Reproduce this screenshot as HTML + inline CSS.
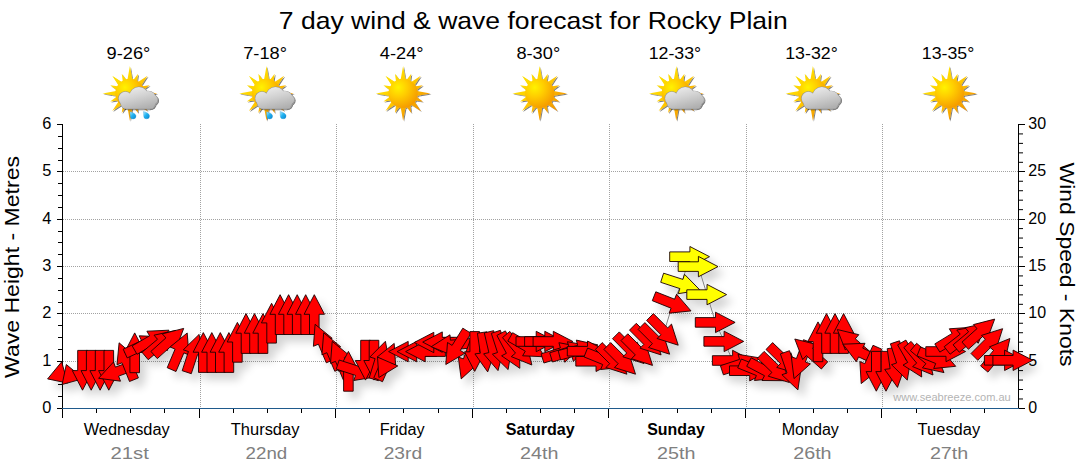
<!DOCTYPE html><html><head><meta charset="utf-8"><title>7 day wind &amp; wave forecast</title>
<style>html,body{margin:0;padding:0;background:#fff}svg{display:block}text{font-family:"Liberation Sans",sans-serif}</style></head><body>
<svg width="1080" height="475" viewBox="0 0 1080 475">
<defs>
<filter id="sh" x="-5%" y="-20%" width="110%" height="150%">
<feGaussianBlur in="SourceAlpha" stdDeviation="4.5" result="b"/>
<feOffset in="b" dx="6" dy="7" result="o"/>
<feComponentTransfer in="o" result="s"><feFuncA type="linear" slope="0.17"/></feComponentTransfer>
<feMerge><feMergeNode in="s"/><feMergeNode in="SourceGraphic"/></feMerge>
</filter>
<radialGradient id="sung" gradientUnits="userSpaceOnUse" cx="-5" cy="-6" r="24">
<stop offset="0" stop-color="#fff200"/><stop offset="0.4" stop-color="#ffcc00"/><stop offset="1" stop-color="#f39200"/>
</radialGradient>
<linearGradient id="rayg" gradientUnits="userSpaceOnUse" x1="-20" y1="-20" x2="20" y2="20">
<stop offset="0" stop-color="#ffe800"/><stop offset="0.5" stop-color="#ffc600"/><stop offset="1" stop-color="#f08a00"/>
</linearGradient>
<linearGradient id="cldg" gradientUnits="userSpaceOnUse" x1="0" y1="-8" x2="6" y2="17">
<stop offset="0" stop-color="#f0f0f0"/><stop offset="0.5" stop-color="#d2d2d2"/><stop offset="1" stop-color="#b0b0b0"/>
</linearGradient>
<linearGradient id="dropg" gradientUnits="objectBoundingBox" x1="0" y1="0" x2="1" y2="1">
<stop offset="0" stop-color="#b8ecff"/><stop offset="0.45" stop-color="#22b4f2"/><stop offset="1" stop-color="#0a84cc"/>
</linearGradient>
<filter id="ish" x="-20%" y="-20%" width="150%" height="150%">
<feGaussianBlur in="SourceAlpha" stdDeviation="0.7" result="b"/>
<feOffset in="b" dx="1" dy="1" result="o"/>
<feComponentTransfer in="o" result="s"><feFuncA type="linear" slope="0.5"/></feComponentTransfer>
<feMerge><feMergeNode in="s"/><feMergeNode in="SourceGraphic"/></feMerge>
</filter>
</defs>
<rect width="1080" height="475" fill="#fff"/>
<g stroke="#a2a2a2" stroke-width="1" stroke-dasharray="1 1" shape-rendering="crispEdges"><line x1="63" y1="361.5" x2="1018" y2="361.5"/><line x1="63" y1="313.5" x2="1018" y2="313.5"/><line x1="63" y1="266.5" x2="1018" y2="266.5"/><line x1="63" y1="219.5" x2="1018" y2="219.5"/><line x1="63" y1="171.5" x2="1018" y2="171.5"/><line x1="200.5" y1="124" x2="200.5" y2="408"/><line x1="336.5" y1="124" x2="336.5" y2="408"/><line x1="473.5" y1="124" x2="473.5" y2="408"/><line x1="609.5" y1="124" x2="609.5" y2="408"/><line x1="746.5" y1="124" x2="746.5" y2="408"/><line x1="882.5" y1="124" x2="882.5" y2="408"/></g>
<text x="533.3" y="29" font-size="24.8" text-anchor="middle" fill="#000" textLength="509" lengthAdjust="spacingAndGlyphs">7 day wind &amp; wave forecast for Rocky Plain</text>
<text x="128.5" y="58.9" font-size="16.4" text-anchor="middle" fill="#000" textLength="43.8" lengthAdjust="spacingAndGlyphs">9-26°</text>
<text x="126.7" y="435" font-size="16" text-anchor="middle" fill="#000" textLength="86" lengthAdjust="spacingAndGlyphs">Wednesday</text>
<text x="129.6" y="458.5" font-size="17.2" text-anchor="middle" fill="#808080" textLength="38.4" lengthAdjust="spacingAndGlyphs">21st</text>
<text x="265.1" y="58.9" font-size="16.4" text-anchor="middle" fill="#000" textLength="43.8" lengthAdjust="spacingAndGlyphs">7-18°</text>
<text x="265.1" y="435" font-size="16" text-anchor="middle" fill="#000" textLength="68.6" lengthAdjust="spacingAndGlyphs">Thursday</text>
<text x="266.4" y="458.5" font-size="17.2" text-anchor="middle" fill="#808080" textLength="41.6" lengthAdjust="spacingAndGlyphs">22nd</text>
<text x="401.7" y="58.9" font-size="16.4" text-anchor="middle" fill="#000" textLength="43.8" lengthAdjust="spacingAndGlyphs">4-24°</text>
<text x="402.2" y="435" font-size="16" text-anchor="middle" fill="#000" textLength="45" lengthAdjust="spacingAndGlyphs">Friday</text>
<text x="402.9" y="458.5" font-size="17.2" text-anchor="middle" fill="#808080" textLength="38.4" lengthAdjust="spacingAndGlyphs">23rd</text>
<text x="538.3" y="58.9" font-size="16.4" text-anchor="middle" fill="#000" textLength="43.8" lengthAdjust="spacingAndGlyphs">8-30°</text>
<text x="540.3" y="435" font-size="16" text-anchor="middle" fill="#000" font-weight="bold" textLength="68.9" lengthAdjust="spacingAndGlyphs">Saturday</text>
<text x="539.3" y="458.5" font-size="17.2" text-anchor="middle" fill="#808080" textLength="38.4" lengthAdjust="spacingAndGlyphs">24th</text>
<text x="674.9" y="58.9" font-size="16.4" text-anchor="middle" fill="#000" textLength="52.5" lengthAdjust="spacingAndGlyphs">12-33°</text>
<text x="676" y="435" font-size="16" text-anchor="middle" fill="#000" font-weight="bold" textLength="57.5" lengthAdjust="spacingAndGlyphs">Sunday</text>
<text x="676.3" y="458.5" font-size="17.2" text-anchor="middle" fill="#808080" textLength="38.4" lengthAdjust="spacingAndGlyphs">25th</text>
<text x="811.5" y="58.9" font-size="16.4" text-anchor="middle" fill="#000" textLength="52.5" lengthAdjust="spacingAndGlyphs">13-32°</text>
<text x="810.3" y="435" font-size="16" text-anchor="middle" fill="#000" textLength="57.2" lengthAdjust="spacingAndGlyphs">Monday</text>
<text x="812.4" y="458.5" font-size="17.2" text-anchor="middle" fill="#808080" textLength="38.4" lengthAdjust="spacingAndGlyphs">26th</text>
<text x="948.1" y="58.9" font-size="16.4" text-anchor="middle" fill="#000" textLength="52.5" lengthAdjust="spacingAndGlyphs">13-35°</text>
<text x="948.9" y="435" font-size="16" text-anchor="middle" fill="#000" textLength="62.6" lengthAdjust="spacingAndGlyphs">Tuesday</text>
<text x="949.1" y="458.5" font-size="17.2" text-anchor="middle" fill="#808080" textLength="38.4" lengthAdjust="spacingAndGlyphs">27th</text>
<g transform="translate(129.9,93.4)"><g filter="url(#ish)"><path fill="url(#rayg)" d="M2.70 -12.50 L0.00 -27.40 L-2.70 -12.50ZM6.91 -10.67 L8.15 -19.68 L2.66 -12.43ZM10.68 -7.00 L17.68 -17.68 L7.00 -10.68ZM12.43 -2.66 L19.68 -8.15 L10.67 -6.91ZM12.50 2.70 L27.40 -0.00 L12.50 -2.70ZM10.67 6.91 L19.68 8.15 L12.43 2.66ZM7.00 10.68 L17.68 17.68 L10.68 7.00ZM2.66 12.43 L8.15 19.68 L6.91 10.67ZM-2.70 12.50 L0.00 27.40 L2.70 12.50ZM-6.91 10.67 L-8.15 19.68 L-2.66 12.43ZM-10.68 7.00 L-17.68 17.68 L-7.00 10.68ZM-12.43 2.66 L-19.68 8.15 L-10.67 6.91ZM-12.50 -2.70 L-27.40 0.00 L-12.50 2.70ZM-10.67 -6.91 L-19.68 -8.15 L-12.43 -2.66ZM-7.00 -10.68 L-17.68 -17.68 L-10.68 -7.00ZM-2.66 -12.43 L-8.15 -19.68 L-6.91 -10.67Z"/><circle r="14.6" fill="url(#sung)"/></g></g>
<g transform="translate(132.8,115.3)"><path d="M-2.9 -3.6 C-0.8 -3.2 3.2 -1.6 3.2 0.8 A2.9 2.9 0 0 1 -2.6 0.8 C-2.6 -0.8 -2.8 -2.2 -2.9 -3.6Z" fill="url(#dropg)" stroke="#1088d0" stroke-width="0.3"/></g><g transform="translate(146.3,115.1)"><path d="M-2.9 -3.6 C-0.8 -3.2 3.2 -1.6 3.2 0.8 A2.9 2.9 0 0 1 -2.6 0.8 C-2.6 -0.8 -2.8 -2.2 -2.9 -3.6Z" fill="url(#dropg)" stroke="#1088d0" stroke-width="0.3"/></g>
<g transform="translate(129.9,93.4)"><g filter="url(#ish)"><g fill="#909090"><circle cx="-4.5" cy="5.0" r="7.15"/><circle cx="9.0" cy="3.0" r="9.85"/><circle cx="18.3" cy="5.4" r="8.15"/><circle cx="23.0" cy="6.3" r="5.15"/><rect x="-9.65" y="3.55" width="35.5" height="12.3" rx="6.45"/></g><g fill="url(#cldg)"><circle cx="-4.5" cy="5.0" r="6.7"/><circle cx="9.0" cy="3.0" r="9.4"/><circle cx="18.3" cy="5.4" r="7.7"/><circle cx="23.0" cy="6.3" r="4.7"/><rect x="-9.2" y="4" width="34.6" height="11.4" rx="6"/></g></g></g>
<g transform="translate(266.5,93.4)"><g filter="url(#ish)"><path fill="url(#rayg)" d="M2.70 -12.50 L0.00 -27.40 L-2.70 -12.50ZM6.91 -10.67 L8.15 -19.68 L2.66 -12.43ZM10.68 -7.00 L17.68 -17.68 L7.00 -10.68ZM12.43 -2.66 L19.68 -8.15 L10.67 -6.91ZM12.50 2.70 L27.40 -0.00 L12.50 -2.70ZM10.67 6.91 L19.68 8.15 L12.43 2.66ZM7.00 10.68 L17.68 17.68 L10.68 7.00ZM2.66 12.43 L8.15 19.68 L6.91 10.67ZM-2.70 12.50 L0.00 27.40 L2.70 12.50ZM-6.91 10.67 L-8.15 19.68 L-2.66 12.43ZM-10.68 7.00 L-17.68 17.68 L-7.00 10.68ZM-12.43 2.66 L-19.68 8.15 L-10.67 6.91ZM-12.50 -2.70 L-27.40 0.00 L-12.50 2.70ZM-10.67 -6.91 L-19.68 -8.15 L-12.43 -2.66ZM-7.00 -10.68 L-17.68 -17.68 L-10.68 -7.00ZM-2.66 -12.43 L-8.15 -19.68 L-6.91 -10.67Z"/><circle r="14.6" fill="url(#sung)"/></g></g>
<g transform="translate(269.4,115.3)"><path d="M-2.9 -3.6 C-0.8 -3.2 3.2 -1.6 3.2 0.8 A2.9 2.9 0 0 1 -2.6 0.8 C-2.6 -0.8 -2.8 -2.2 -2.9 -3.6Z" fill="url(#dropg)" stroke="#1088d0" stroke-width="0.3"/></g><g transform="translate(282.9,115.1)"><path d="M-2.9 -3.6 C-0.8 -3.2 3.2 -1.6 3.2 0.8 A2.9 2.9 0 0 1 -2.6 0.8 C-2.6 -0.8 -2.8 -2.2 -2.9 -3.6Z" fill="url(#dropg)" stroke="#1088d0" stroke-width="0.3"/></g>
<g transform="translate(266.5,93.4)"><g filter="url(#ish)"><g fill="#909090"><circle cx="-4.5" cy="5.0" r="7.15"/><circle cx="9.0" cy="3.0" r="9.85"/><circle cx="18.3" cy="5.4" r="8.15"/><circle cx="23.0" cy="6.3" r="5.15"/><rect x="-9.65" y="3.55" width="35.5" height="12.3" rx="6.45"/></g><g fill="url(#cldg)"><circle cx="-4.5" cy="5.0" r="6.7"/><circle cx="9.0" cy="3.0" r="9.4"/><circle cx="18.3" cy="5.4" r="7.7"/><circle cx="23.0" cy="6.3" r="4.7"/><rect x="-9.2" y="4" width="34.6" height="11.4" rx="6"/></g></g></g>
<g transform="translate(403.1,93.4)"><g filter="url(#ish)"><path fill="url(#rayg)" d="M2.70 -12.50 L0.00 -27.40 L-2.70 -12.50ZM6.91 -10.67 L8.15 -19.68 L2.66 -12.43ZM10.68 -7.00 L17.68 -17.68 L7.00 -10.68ZM12.43 -2.66 L19.68 -8.15 L10.67 -6.91ZM12.50 2.70 L27.40 -0.00 L12.50 -2.70ZM10.67 6.91 L19.68 8.15 L12.43 2.66ZM7.00 10.68 L17.68 17.68 L10.68 7.00ZM2.66 12.43 L8.15 19.68 L6.91 10.67ZM-2.70 12.50 L0.00 27.40 L2.70 12.50ZM-6.91 10.67 L-8.15 19.68 L-2.66 12.43ZM-10.68 7.00 L-17.68 17.68 L-7.00 10.68ZM-12.43 2.66 L-19.68 8.15 L-10.67 6.91ZM-12.50 -2.70 L-27.40 0.00 L-12.50 2.70ZM-10.67 -6.91 L-19.68 -8.15 L-12.43 -2.66ZM-7.00 -10.68 L-17.68 -17.68 L-10.68 -7.00ZM-2.66 -12.43 L-8.15 -19.68 L-6.91 -10.67Z"/><circle r="14.6" fill="url(#sung)"/></g></g>
<g transform="translate(539.7,93.4)"><g filter="url(#ish)"><path fill="url(#rayg)" d="M2.70 -12.50 L0.00 -27.40 L-2.70 -12.50ZM6.91 -10.67 L8.15 -19.68 L2.66 -12.43ZM10.68 -7.00 L17.68 -17.68 L7.00 -10.68ZM12.43 -2.66 L19.68 -8.15 L10.67 -6.91ZM12.50 2.70 L27.40 -0.00 L12.50 -2.70ZM10.67 6.91 L19.68 8.15 L12.43 2.66ZM7.00 10.68 L17.68 17.68 L10.68 7.00ZM2.66 12.43 L8.15 19.68 L6.91 10.67ZM-2.70 12.50 L0.00 27.40 L2.70 12.50ZM-6.91 10.67 L-8.15 19.68 L-2.66 12.43ZM-10.68 7.00 L-17.68 17.68 L-7.00 10.68ZM-12.43 2.66 L-19.68 8.15 L-10.67 6.91ZM-12.50 -2.70 L-27.40 0.00 L-12.50 2.70ZM-10.67 -6.91 L-19.68 -8.15 L-12.43 -2.66ZM-7.00 -10.68 L-17.68 -17.68 L-10.68 -7.00ZM-2.66 -12.43 L-8.15 -19.68 L-6.91 -10.67Z"/><circle r="14.6" fill="url(#sung)"/></g></g>
<g transform="translate(676.3,93.4)"><g filter="url(#ish)"><path fill="url(#rayg)" d="M2.70 -12.50 L0.00 -27.40 L-2.70 -12.50ZM6.91 -10.67 L8.15 -19.68 L2.66 -12.43ZM10.68 -7.00 L17.68 -17.68 L7.00 -10.68ZM12.43 -2.66 L19.68 -8.15 L10.67 -6.91ZM12.50 2.70 L27.40 -0.00 L12.50 -2.70ZM10.67 6.91 L19.68 8.15 L12.43 2.66ZM7.00 10.68 L17.68 17.68 L10.68 7.00ZM2.66 12.43 L8.15 19.68 L6.91 10.67ZM-2.70 12.50 L0.00 27.40 L2.70 12.50ZM-6.91 10.67 L-8.15 19.68 L-2.66 12.43ZM-10.68 7.00 L-17.68 17.68 L-7.00 10.68ZM-12.43 2.66 L-19.68 8.15 L-10.67 6.91ZM-12.50 -2.70 L-27.40 0.00 L-12.50 2.70ZM-10.67 -6.91 L-19.68 -8.15 L-12.43 -2.66ZM-7.00 -10.68 L-17.68 -17.68 L-10.68 -7.00ZM-2.66 -12.43 L-8.15 -19.68 L-6.91 -10.67Z"/><circle r="14.6" fill="url(#sung)"/></g></g>
<g transform="translate(676.3,93.4)"><g filter="url(#ish)"><g fill="#909090"><circle cx="-4.5" cy="5.0" r="7.15"/><circle cx="9.0" cy="3.0" r="9.85"/><circle cx="18.3" cy="5.4" r="8.15"/><circle cx="23.0" cy="6.3" r="5.15"/><rect x="-9.65" y="3.55" width="35.5" height="12.3" rx="6.45"/></g><g fill="url(#cldg)"><circle cx="-4.5" cy="5.0" r="6.7"/><circle cx="9.0" cy="3.0" r="9.4"/><circle cx="18.3" cy="5.4" r="7.7"/><circle cx="23.0" cy="6.3" r="4.7"/><rect x="-9.2" y="4" width="34.6" height="11.4" rx="6"/></g></g></g>
<g transform="translate(812.9,93.4)"><g filter="url(#ish)"><path fill="url(#rayg)" d="M2.70 -12.50 L0.00 -27.40 L-2.70 -12.50ZM6.91 -10.67 L8.15 -19.68 L2.66 -12.43ZM10.68 -7.00 L17.68 -17.68 L7.00 -10.68ZM12.43 -2.66 L19.68 -8.15 L10.67 -6.91ZM12.50 2.70 L27.40 -0.00 L12.50 -2.70ZM10.67 6.91 L19.68 8.15 L12.43 2.66ZM7.00 10.68 L17.68 17.68 L10.68 7.00ZM2.66 12.43 L8.15 19.68 L6.91 10.67ZM-2.70 12.50 L0.00 27.40 L2.70 12.50ZM-6.91 10.67 L-8.15 19.68 L-2.66 12.43ZM-10.68 7.00 L-17.68 17.68 L-7.00 10.68ZM-12.43 2.66 L-19.68 8.15 L-10.67 6.91ZM-12.50 -2.70 L-27.40 0.00 L-12.50 2.70ZM-10.67 -6.91 L-19.68 -8.15 L-12.43 -2.66ZM-7.00 -10.68 L-17.68 -17.68 L-10.68 -7.00ZM-2.66 -12.43 L-8.15 -19.68 L-6.91 -10.67Z"/><circle r="14.6" fill="url(#sung)"/></g></g>
<g transform="translate(812.9,93.4)"><g filter="url(#ish)"><g fill="#909090"><circle cx="-4.5" cy="5.0" r="7.15"/><circle cx="9.0" cy="3.0" r="9.85"/><circle cx="18.3" cy="5.4" r="8.15"/><circle cx="23.0" cy="6.3" r="5.15"/><rect x="-9.65" y="3.55" width="35.5" height="12.3" rx="6.45"/></g><g fill="url(#cldg)"><circle cx="-4.5" cy="5.0" r="6.7"/><circle cx="9.0" cy="3.0" r="9.4"/><circle cx="18.3" cy="5.4" r="7.7"/><circle cx="23.0" cy="6.3" r="4.7"/><rect x="-9.2" y="4" width="34.6" height="11.4" rx="6"/></g></g></g>
<g transform="translate(949.5,93.4)"><g filter="url(#ish)"><path fill="url(#rayg)" d="M2.70 -12.50 L0.00 -27.40 L-2.70 -12.50ZM6.91 -10.67 L8.15 -19.68 L2.66 -12.43ZM10.68 -7.00 L17.68 -17.68 L7.00 -10.68ZM12.43 -2.66 L19.68 -8.15 L10.67 -6.91ZM12.50 2.70 L27.40 -0.00 L12.50 -2.70ZM10.67 6.91 L19.68 8.15 L12.43 2.66ZM7.00 10.68 L17.68 17.68 L10.68 7.00ZM2.66 12.43 L8.15 19.68 L6.91 10.67ZM-2.70 12.50 L0.00 27.40 L2.70 12.50ZM-6.91 10.67 L-8.15 19.68 L-2.66 12.43ZM-10.68 7.00 L-17.68 17.68 L-7.00 10.68ZM-12.43 2.66 L-19.68 8.15 L-10.67 6.91ZM-12.50 -2.70 L-27.40 0.00 L-12.50 2.70ZM-10.67 -6.91 L-19.68 -8.15 L-12.43 -2.66ZM-7.00 -10.68 L-17.68 -17.68 L-10.68 -7.00ZM-2.66 -12.43 L-8.15 -19.68 L-6.91 -10.67Z"/><circle r="14.6" fill="url(#sung)"/></g></g>
<text transform="translate(18.9,267) rotate(-90)" font-size="20.6" text-anchor="middle" textLength="222" lengthAdjust="spacingAndGlyphs">Wave Height - Metres</text>
<text transform="translate(1059.5,264.5) rotate(90)" font-size="20.6" text-anchor="middle" textLength="204" lengthAdjust="spacingAndGlyphs">Wind Speed - Knots</text>
<g stroke="#000" stroke-width="1" shape-rendering="crispEdges"><line x1="62.5" y1="124" x2="62.5" y2="409"/><line x1="57" y1="408.5" x2="63" y2="408.5"/><line x1="58" y1="396.5" x2="63" y2="396.5"/><line x1="58" y1="384.5" x2="63" y2="384.5"/><line x1="58" y1="373.5" x2="63" y2="373.5"/><line x1="57" y1="361.5" x2="63" y2="361.5"/><line x1="58" y1="349.5" x2="63" y2="349.5"/><line x1="58" y1="337.5" x2="63" y2="337.5"/><line x1="58" y1="325.5" x2="63" y2="325.5"/><line x1="57" y1="313.5" x2="63" y2="313.5"/><line x1="58" y1="302.5" x2="63" y2="302.5"/><line x1="58" y1="290.5" x2="63" y2="290.5"/><line x1="58" y1="278.5" x2="63" y2="278.5"/><line x1="57" y1="266.5" x2="63" y2="266.5"/><line x1="58" y1="254.5" x2="63" y2="254.5"/><line x1="58" y1="242.5" x2="63" y2="242.5"/><line x1="58" y1="231.5" x2="63" y2="231.5"/><line x1="57" y1="219.5" x2="63" y2="219.5"/><line x1="58" y1="207.5" x2="63" y2="207.5"/><line x1="58" y1="195.5" x2="63" y2="195.5"/><line x1="58" y1="183.5" x2="63" y2="183.5"/><line x1="57" y1="171.5" x2="63" y2="171.5"/><line x1="58" y1="160.5" x2="63" y2="160.5"/><line x1="58" y1="148.5" x2="63" y2="148.5"/><line x1="58" y1="136.5" x2="63" y2="136.5"/><line x1="57" y1="124.5" x2="63" y2="124.5"/></g>
<g stroke="#000" stroke-width="1"><line x1="1018.5" y1="124" x2="1018.5" y2="409" shape-rendering="crispEdges"/><line x1="1018" y1="408.5" x2="1024.5" y2="408.5" shape-rendering="crispEdges"/><line x1="1018" y1="398.98" x2="1023" y2="398.98"/><line x1="1018" y1="389.52" x2="1023" y2="389.52"/><line x1="1018" y1="380.05" x2="1023" y2="380.05"/><line x1="1018" y1="370.58" x2="1023" y2="370.58"/><line x1="1018" y1="361.5" x2="1024.5" y2="361.5" shape-rendering="crispEdges"/><line x1="1018" y1="351.65" x2="1023" y2="351.65"/><line x1="1018" y1="342.18" x2="1023" y2="342.18"/><line x1="1018" y1="332.72" x2="1023" y2="332.72"/><line x1="1018" y1="323.25" x2="1023" y2="323.25"/><line x1="1018" y1="313.5" x2="1024.5" y2="313.5" shape-rendering="crispEdges"/><line x1="1018" y1="304.32" x2="1023" y2="304.32"/><line x1="1018" y1="294.85" x2="1023" y2="294.85"/><line x1="1018" y1="285.38" x2="1023" y2="285.38"/><line x1="1018" y1="275.92" x2="1023" y2="275.92"/><line x1="1018" y1="266.5" x2="1024.5" y2="266.5" shape-rendering="crispEdges"/><line x1="1018" y1="256.98" x2="1023" y2="256.98"/><line x1="1018" y1="247.52" x2="1023" y2="247.52"/><line x1="1018" y1="238.05" x2="1023" y2="238.05"/><line x1="1018" y1="228.58" x2="1023" y2="228.58"/><line x1="1018" y1="219.5" x2="1024.5" y2="219.5" shape-rendering="crispEdges"/><line x1="1018" y1="209.65" x2="1023" y2="209.65"/><line x1="1018" y1="200.18" x2="1023" y2="200.18"/><line x1="1018" y1="190.72" x2="1023" y2="190.72"/><line x1="1018" y1="181.25" x2="1023" y2="181.25"/><line x1="1018" y1="171.5" x2="1024.5" y2="171.5" shape-rendering="crispEdges"/><line x1="1018" y1="162.32" x2="1023" y2="162.32"/><line x1="1018" y1="152.85" x2="1023" y2="152.85"/><line x1="1018" y1="143.38" x2="1023" y2="143.38"/><line x1="1018" y1="133.92" x2="1023" y2="133.92"/><line x1="1018" y1="124.5" x2="1024.5" y2="124.5" shape-rendering="crispEdges"/></g>
<text x="51.3" y="412.9" font-size="16.4" text-anchor="end" fill="#000">0</text>
<text x="1028.3" y="412.9" font-size="16" text-anchor="start" fill="#000">0</text>
<text x="51.3" y="365.9" font-size="16.4" text-anchor="end" fill="#000">1</text>
<text x="1028.3" y="365.9" font-size="16" text-anchor="start" fill="#000">5</text>
<text x="51.3" y="317.9" font-size="16.4" text-anchor="end" fill="#000">2</text>
<text x="1028.3" y="317.9" font-size="16" text-anchor="start" fill="#000">10</text>
<text x="51.3" y="270.9" font-size="16.4" text-anchor="end" fill="#000">3</text>
<text x="1028.3" y="270.9" font-size="16" text-anchor="start" fill="#000">15</text>
<text x="51.3" y="223.9" font-size="16.4" text-anchor="end" fill="#000">4</text>
<text x="1028.3" y="223.9" font-size="16" text-anchor="start" fill="#000">20</text>
<text x="51.3" y="175.9" font-size="16.4" text-anchor="end" fill="#000">5</text>
<text x="1028.3" y="175.9" font-size="16" text-anchor="start" fill="#000">25</text>
<text x="51.3" y="128.9" font-size="16.4" text-anchor="end" fill="#000">6</text>
<text x="1028.3" y="128.9" font-size="16" text-anchor="start" fill="#000">30</text>
<g stroke="#000" stroke-width="1" shape-rendering="crispEdges"><line x1="62.5" y1="409" x2="62.5" y2="418"/><line x1="96.5" y1="409" x2="96.5" y2="413"/><line x1="130.5" y1="409" x2="130.5" y2="413"/><line x1="164.5" y1="409" x2="164.5" y2="413"/><line x1="199.5" y1="409" x2="199.5" y2="418"/><line x1="233.5" y1="409" x2="233.5" y2="413"/><line x1="267.5" y1="409" x2="267.5" y2="413"/><line x1="301.5" y1="409" x2="301.5" y2="413"/><line x1="335.5" y1="409" x2="335.5" y2="418"/><line x1="369.5" y1="409" x2="369.5" y2="413"/><line x1="403.5" y1="409" x2="403.5" y2="413"/><line x1="438.5" y1="409" x2="438.5" y2="413"/><line x1="472.5" y1="409" x2="472.5" y2="418"/><line x1="506.5" y1="409" x2="506.5" y2="413"/><line x1="540.5" y1="409" x2="540.5" y2="413"/><line x1="574.5" y1="409" x2="574.5" y2="413"/><line x1="608.5" y1="409" x2="608.5" y2="418"/><line x1="642.5" y1="409" x2="642.5" y2="413"/><line x1="677.5" y1="409" x2="677.5" y2="413"/><line x1="711.5" y1="409" x2="711.5" y2="413"/><line x1="745.5" y1="409" x2="745.5" y2="418"/><line x1="779.5" y1="409" x2="779.5" y2="413"/><line x1="813.5" y1="409" x2="813.5" y2="413"/><line x1="847.5" y1="409" x2="847.5" y2="413"/><line x1="881.5" y1="409" x2="881.5" y2="418"/><line x1="916.5" y1="409" x2="916.5" y2="413"/><line x1="950.5" y1="409" x2="950.5" y2="413"/><line x1="984.5" y1="409" x2="984.5" y2="413"/></g>
<line x1="62" y1="408.5" x2="1019" y2="408.5" stroke="#1f5a8c" stroke-width="1" shape-rendering="crispEdges"/>
<text x="952" y="401" font-size="10.7" text-anchor="middle" fill="#b4b4b4" textLength="117.5" lengthAdjust="spacingAndGlyphs">www.seabreeze.com.au</text>
<g filter="url(#sh)">
<polyline fill="none" stroke="#808080" stroke-width="1" points="82.5,370.6 91.2,370.6 100.1,370.6 108.8,370.6 117.0,371.6 126.4,361.0 134.7,352.5 143.5,345.0 152.0,340.0 160.6,343.0 169.1,341.5 179.5,351.0 193.0,353.0 203.3,352.2 211.8,352.2 220.3,352.2 228.9,352.2 237.4,342.0 246.0,333.2 254.5,333.2 263.0,333.2 271.6,322.9 280.1,314.3 288.6,314.3 297.2,314.3 305.7,314.3 314.3,314.3 322.8,342.3 331.3,350.8 339.9,359.4 348.4,371.0 356.9,370.8 365.5,360.5 374.0,360.5 379.7,360.0 386.3,361.3 378.2,367.3 408.2,351.6 416.7,351.6 425.2,351.6 433.8,342.5 442.3,342.1 450.9,345.0 456.2,347.9 467.9,360.5 474.7,351.8 485.0,352.5 493.5,351.5 502.1,351.0 510.6,351.0 519.2,350.0 527.7,347.0 536.2,341.5 544.8,341.5 553.3,341.5 561.8,352.5 570.4,351.5 578.9,350.0 587.5,351.2 596.0,361.3 604.5,360.0 613.1,360.3 621.6,360.3 630.1,349.6 638.7,351.5 647.2,341.0 655.8,340.3 664.3,331.3 672.8,303.7 681.4,284.0 689.9,256.7 698.4,266.6 707.0,294.6 715.5,322.4 724.1,341.4 732.6,360.5 741.1,364.0 749.7,370.7 758.2,371.0 766.7,371.5 775.3,368.9 783.8,360.1 791.5,371.4 800.9,360.3 809.4,352.0 818.0,341.5 826.5,333.2 835.0,333.2 843.6,333.2 852.1,342.4 860.7,352.5 869.2,365.7 876.3,371.6 886.0,371.6 894.8,368.0 901.2,361.5 911.9,360.0 920.4,360.0 929.0,360.0 937.5,359.0 946.0,351.5 954.6,337.5 963.1,338.0 971.6,335.5 980.2,332.2 988.7,342.6 997.3,353.5 1004.6,360.3 1013.1,360.3"/>
<path d="M61.7 361.8 L67.6 383.1 L47.6 378.9Z" fill="#ff0000" stroke="#1a0000" stroke-width="0.9" stroke-linejoin="miter"/>
<path d="M83.4 378.6 L62.1 384.5 L66.3 364.5Z" fill="#ff0000" stroke="#1a0000" stroke-width="0.9" stroke-linejoin="miter"/>
<path d="M82.5 390.2 L72.3 370.6 L77.7 370.6 L77.7 350.4 L87.3 350.4 L87.3 370.6 L92.7 370.6Z" fill="#ff0000" stroke="#1a0000" stroke-width="0.9" stroke-linejoin="miter"/>
<path d="M91.2 390.2 L81.0 370.6 L86.4 370.6 L86.4 350.4 L96.0 350.4 L96.0 370.6 L101.4 370.6Z" fill="#ff0000" stroke="#1a0000" stroke-width="0.9" stroke-linejoin="miter"/>
<path d="M100.1 390.2 L89.9 370.6 L95.3 370.6 L95.3 350.4 L104.9 350.4 L104.9 370.6 L110.3 370.6Z" fill="#ff0000" stroke="#1a0000" stroke-width="0.9" stroke-linejoin="miter"/>
<path d="M108.8 390.2 L98.6 370.6 L104.0 370.6 L104.0 350.4 L113.6 350.4 L113.6 370.6 L119.0 370.6Z" fill="#ff0000" stroke="#1a0000" stroke-width="0.9" stroke-linejoin="miter"/>
<path d="M98.6 378.3 L113.5 362.0 L115.4 367.1 L134.3 360.2 L137.6 369.2 L118.6 376.1 L120.5 381.2Z" fill="#ff0000" stroke="#1a0000" stroke-width="0.9" stroke-linejoin="miter"/>
<path d="M119.1 342.8 L135.9 357.2 L130.9 359.2 L138.4 377.9 L129.5 381.5 L122.0 362.8 L117.0 364.8Z" fill="#ff0000" stroke="#1a0000" stroke-width="0.9" stroke-linejoin="miter"/>
<path d="M134.7 332.9 L144.9 352.5 L139.5 352.5 L139.5 372.7 L129.9 372.7 L129.9 352.5 L124.5 352.5Z" fill="#ff0000" stroke="#1a0000" stroke-width="0.9" stroke-linejoin="miter"/>
<path d="M161.3 336.7 L147.8 354.2 L145.5 349.4 L127.2 357.9 L123.2 349.2 L141.5 340.6 L139.2 335.8Z" fill="#ff0000" stroke="#1a0000" stroke-width="0.9" stroke-linejoin="miter"/>
<path d="M169.0 330.2 L157.1 348.8 L154.4 344.2 L137.0 354.3 L132.2 345.9 L149.6 335.8 L146.9 331.2Z" fill="#ff0000" stroke="#1a0000" stroke-width="0.9" stroke-linejoin="miter"/>
<path d="M175.6 330.4 L167.1 350.8 L163.7 346.7 L148.2 359.7 L142.0 352.3 L157.5 339.3 L154.0 335.2Z" fill="#ff0000" stroke="#1a0000" stroke-width="0.9" stroke-linejoin="miter"/>
<path d="M183.7 328.4 L175.9 349.1 L172.3 345.1 L157.3 358.6 L150.9 351.4 L165.9 337.9 L162.3 333.9Z" fill="#ff0000" stroke="#1a0000" stroke-width="0.9" stroke-linejoin="miter"/>
<path d="M187.2 333.0 L188.9 355.0 L183.9 352.9 L176.0 371.5 L167.2 367.7 L175.1 349.1 L170.1 347.0Z" fill="#ff0000" stroke="#1a0000" stroke-width="0.9" stroke-linejoin="miter"/>
<path d="M199.1 334.4 L202.7 356.2 L197.6 354.5 L191.3 373.7 L182.2 370.7 L188.4 351.5 L183.3 349.8Z" fill="#ff0000" stroke="#1a0000" stroke-width="0.9" stroke-linejoin="miter"/>
<path d="M203.3 332.6 L213.5 352.2 L208.1 352.2 L208.1 372.4 L198.5 372.4 L198.5 352.2 L193.1 352.2Z" fill="#ff0000" stroke="#1a0000" stroke-width="0.9" stroke-linejoin="miter"/>
<path d="M211.8 332.6 L222.0 352.2 L216.6 352.2 L216.6 372.4 L207.0 372.4 L207.0 352.2 L201.6 352.2Z" fill="#ff0000" stroke="#1a0000" stroke-width="0.9" stroke-linejoin="miter"/>
<path d="M220.3 332.6 L230.5 352.2 L225.1 352.2 L225.1 372.4 L215.5 372.4 L215.5 352.2 L210.1 352.2Z" fill="#ff0000" stroke="#1a0000" stroke-width="0.9" stroke-linejoin="miter"/>
<path d="M228.9 332.6 L239.1 352.2 L233.7 352.2 L233.7 372.4 L224.1 372.4 L224.1 352.2 L218.7 352.2Z" fill="#ff0000" stroke="#1a0000" stroke-width="0.9" stroke-linejoin="miter"/>
<path d="M237.4 322.4 L247.6 342.0 L242.2 342.0 L242.2 362.2 L232.6 362.2 L232.6 342.0 L227.2 342.0Z" fill="#ff0000" stroke="#1a0000" stroke-width="0.9" stroke-linejoin="miter"/>
<path d="M246.0 313.6 L256.2 333.2 L250.8 333.2 L250.8 353.4 L241.2 353.4 L241.2 333.2 L235.8 333.2Z" fill="#ff0000" stroke="#1a0000" stroke-width="0.9" stroke-linejoin="miter"/>
<path d="M254.5 313.6 L264.7 333.2 L259.3 333.2 L259.3 353.4 L249.7 353.4 L249.7 333.2 L244.3 333.2Z" fill="#ff0000" stroke="#1a0000" stroke-width="0.9" stroke-linejoin="miter"/>
<path d="M263.0 313.6 L273.2 333.2 L267.8 333.2 L267.8 353.4 L258.2 353.4 L258.2 333.2 L252.8 333.2Z" fill="#ff0000" stroke="#1a0000" stroke-width="0.9" stroke-linejoin="miter"/>
<path d="M271.6 303.3 L281.8 322.9 L276.4 322.9 L276.4 343.1 L266.8 343.1 L266.8 322.9 L261.4 322.9Z" fill="#ff0000" stroke="#1a0000" stroke-width="0.9" stroke-linejoin="miter"/>
<path d="M280.1 294.7 L290.3 314.3 L284.9 314.3 L284.9 334.5 L275.3 334.5 L275.3 314.3 L269.9 314.3Z" fill="#ff0000" stroke="#1a0000" stroke-width="0.9" stroke-linejoin="miter"/>
<path d="M288.6 294.7 L298.8 314.3 L293.4 314.3 L293.4 334.5 L283.8 334.5 L283.8 314.3 L278.4 314.3Z" fill="#ff0000" stroke="#1a0000" stroke-width="0.9" stroke-linejoin="miter"/>
<path d="M297.2 294.7 L307.4 314.3 L302.0 314.3 L302.0 334.5 L292.4 334.5 L292.4 314.3 L287.0 314.3Z" fill="#ff0000" stroke="#1a0000" stroke-width="0.9" stroke-linejoin="miter"/>
<path d="M305.7 294.7 L315.9 314.3 L310.5 314.3 L310.5 334.5 L300.9 334.5 L300.9 314.3 L295.5 314.3Z" fill="#ff0000" stroke="#1a0000" stroke-width="0.9" stroke-linejoin="miter"/>
<path d="M314.3 294.7 L324.5 314.3 L319.1 314.3 L319.1 334.5 L309.5 334.5 L309.5 314.3 L304.1 314.3Z" fill="#ff0000" stroke="#1a0000" stroke-width="0.9" stroke-linejoin="miter"/>
<path d="M315.1 324.3 L332.2 338.3 L327.2 340.4 L335.1 359.0 L326.3 362.8 L318.4 344.2 L313.4 346.3Z" fill="#ff0000" stroke="#1a0000" stroke-width="0.9" stroke-linejoin="miter"/>
<path d="M323.7 332.8 L340.7 346.8 L335.7 348.9 L343.6 367.5 L334.8 371.3 L326.9 352.7 L321.9 354.8Z" fill="#ff0000" stroke="#1a0000" stroke-width="0.9" stroke-linejoin="miter"/>
<path d="M332.2 341.4 L349.3 355.4 L344.3 357.5 L352.2 376.1 L343.3 379.9 L335.5 361.3 L330.5 363.4Z" fill="#ff0000" stroke="#1a0000" stroke-width="0.9" stroke-linejoin="miter"/>
<path d="M348.4 351.4 L358.6 371.0 L353.2 371.0 L353.2 391.2 L343.6 391.2 L343.6 371.0 L338.2 371.0Z" fill="#ff0000" stroke="#1a0000" stroke-width="0.9" stroke-linejoin="miter"/>
<path d="M375.6 376.9 L353.8 380.5 L355.5 375.4 L336.2 369.1 L339.2 360.0 L358.4 366.2 L360.1 361.1Z" fill="#ff0000" stroke="#1a0000" stroke-width="0.9" stroke-linejoin="miter"/>
<path d="M365.5 380.1 L355.3 360.5 L360.7 360.5 L360.7 340.3 L370.3 340.3 L370.3 360.5 L375.7 360.5Z" fill="#ff0000" stroke="#1a0000" stroke-width="0.9" stroke-linejoin="miter"/>
<path d="M374.0 380.1 L363.8 360.5 L369.2 360.5 L369.2 340.3 L378.8 340.3 L378.8 360.5 L384.2 360.5Z" fill="#ff0000" stroke="#1a0000" stroke-width="0.9" stroke-linejoin="miter"/>
<path d="M385.4 341.3 L389.5 363.0 L384.3 361.4 L378.4 380.7 L369.2 377.9 L375.1 358.6 L369.9 357.0Z" fill="#ff0000" stroke="#1a0000" stroke-width="0.9" stroke-linejoin="miter"/>
<path d="M394.2 343.4 L395.6 365.4 L390.7 363.2 L382.5 381.7 L373.8 377.8 L381.9 359.4 L377.0 357.2Z" fill="#ff0000" stroke="#1a0000" stroke-width="0.9" stroke-linejoin="miter"/>
<path d="M397.8 365.9 L378.9 377.5 L377.5 357.1Z" fill="#ff0000" stroke="#1a0000" stroke-width="0.9" stroke-linejoin="miter"/>
<path d="M388.6 351.6 L408.2 341.4 L408.2 346.8 L428.4 346.8 L428.4 356.4 L408.2 356.4 L408.2 361.8Z" fill="#ff0000" stroke="#1a0000" stroke-width="0.9" stroke-linejoin="miter"/>
<path d="M397.1 351.6 L416.7 341.4 L416.7 346.8 L436.9 346.8 L436.9 356.4 L416.7 356.4 L416.7 361.8Z" fill="#ff0000" stroke="#1a0000" stroke-width="0.9" stroke-linejoin="miter"/>
<path d="M405.6 351.6 L425.2 341.4 L425.2 346.8 L445.4 346.8 L445.4 356.4 L425.2 356.4 L425.2 361.8Z" fill="#ff0000" stroke="#1a0000" stroke-width="0.9" stroke-linejoin="miter"/>
<path d="M414.2 342.5 L433.8 332.3 L433.8 337.7 L454.0 337.7 L454.0 347.3 L433.8 347.3 L433.8 352.7Z" fill="#ff0000" stroke="#1a0000" stroke-width="0.9" stroke-linejoin="miter"/>
<path d="M422.7 342.1 L442.3 331.9 L442.3 337.3 L462.5 337.3 L462.5 346.9 L442.3 346.9 L442.3 352.3Z" fill="#ff0000" stroke="#1a0000" stroke-width="0.9" stroke-linejoin="miter"/>
<path d="M431.3 346.7 L450.0 334.8 L450.4 340.2 L470.6 338.5 L471.4 348.0 L451.3 349.8 L451.7 355.2Z" fill="#ff0000" stroke="#1a0000" stroke-width="0.9" stroke-linejoin="miter"/>
<path d="M445.8 364.5 L447.5 342.5 L452.1 345.4 L462.8 328.2 L471.0 333.3 L460.3 350.4 L464.9 353.3Z" fill="#ff0000" stroke="#1a0000" stroke-width="0.9" stroke-linejoin="miter"/>
<path d="M461.2 378.9 L458.3 357.0 L463.4 358.9 L470.3 339.9 L479.4 343.2 L472.4 362.1 L477.5 364.0Z" fill="#ff0000" stroke="#1a0000" stroke-width="0.9" stroke-linejoin="miter"/>
<path d="M474.7 371.4 L464.5 351.8 L469.9 351.8 L469.9 331.6 L479.5 331.6 L479.5 351.8 L484.9 351.8Z" fill="#ff0000" stroke="#1a0000" stroke-width="0.9" stroke-linejoin="miter"/>
<path d="M487.7 371.9 L474.9 353.9 L480.3 353.2 L477.4 333.2 L486.9 331.8 L489.8 351.8 L495.1 351.1Z" fill="#ff0000" stroke="#1a0000" stroke-width="0.9" stroke-linejoin="miter"/>
<path d="M498.0 370.6 L483.6 353.8 L488.9 352.6 L484.3 332.9 L493.7 330.7 L498.2 350.4 L503.5 349.2Z" fill="#ff0000" stroke="#1a0000" stroke-width="0.9" stroke-linejoin="miter"/>
<path d="M508.1 369.6 L492.4 354.2 L497.5 352.5 L491.3 333.3 L500.4 330.3 L506.6 349.5 L511.8 347.8Z" fill="#ff0000" stroke="#1a0000" stroke-width="0.9" stroke-linejoin="miter"/>
<path d="M519.8 368.3 L501.6 355.8 L506.4 353.3 L496.9 335.4 L505.4 330.9 L514.9 348.7 L519.6 346.2Z" fill="#ff0000" stroke="#1a0000" stroke-width="0.9" stroke-linejoin="miter"/>
<path d="M531.8 365.0 L511.3 356.6 L515.5 353.1 L502.5 337.6 L509.8 331.4 L522.8 346.9 L527.0 343.4Z" fill="#ff0000" stroke="#1a0000" stroke-width="0.9" stroke-linejoin="miter"/>
<path d="M544.7 356.8 L522.6 355.8 L525.3 351.2 L507.8 341.1 L512.6 332.7 L530.1 342.8 L532.8 338.2Z" fill="#ff0000" stroke="#1a0000" stroke-width="0.9" stroke-linejoin="miter"/>
<path d="M555.8 341.5 L536.2 351.7 L536.2 346.3 L516.0 346.3 L516.0 336.7 L536.2 336.7 L536.2 331.3Z" fill="#ff0000" stroke="#1a0000" stroke-width="0.9" stroke-linejoin="miter"/>
<path d="M564.4 341.5 L544.8 351.7 L544.8 346.3 L524.6 346.3 L524.6 336.7 L544.8 336.7 L544.8 331.3Z" fill="#ff0000" stroke="#1a0000" stroke-width="0.9" stroke-linejoin="miter"/>
<path d="M572.9 341.5 L553.3 351.7 L553.3 346.3 L533.1 346.3 L533.1 336.7 L553.3 336.7 L553.3 331.3Z" fill="#ff0000" stroke="#1a0000" stroke-width="0.9" stroke-linejoin="miter"/>
<path d="M580.6 346.8 L564.8 362.3 L563.2 357.1 L543.9 363.0 L541.1 353.8 L560.4 347.9 L558.9 342.7Z" fill="#ff0000" stroke="#1a0000" stroke-width="0.9" stroke-linejoin="miter"/>
<path d="M589.1 345.8 L573.4 361.3 L571.8 356.1 L552.5 362.0 L549.7 352.8 L569.0 346.9 L567.4 341.7Z" fill="#ff0000" stroke="#1a0000" stroke-width="0.9" stroke-linejoin="miter"/>
<path d="M597.9 344.9 L581.6 359.9 L580.2 354.6 L560.6 359.9 L558.2 350.6 L577.7 345.4 L576.3 340.1Z" fill="#ff0000" stroke="#1a0000" stroke-width="0.9" stroke-linejoin="miter"/>
<path d="M607.1 351.2 L587.5 361.4 L587.5 356.0 L567.3 356.0 L567.3 346.4 L587.5 346.4 L587.5 341.0Z" fill="#ff0000" stroke="#1a0000" stroke-width="0.9" stroke-linejoin="miter"/>
<path d="M615.6 361.3 L596.0 371.5 L596.0 366.1 L575.8 366.1 L575.8 356.5 L596.0 356.5 L596.0 351.1Z" fill="#ff0000" stroke="#1a0000" stroke-width="0.9" stroke-linejoin="miter"/>
<path d="M622.7 367.3 L600.7 369.5 L602.7 364.5 L584.0 356.9 L587.6 348.0 L606.3 355.5 L608.4 350.5Z" fill="#ff0000" stroke="#1a0000" stroke-width="0.9" stroke-linejoin="miter"/>
<path d="M626.9 374.2 L605.9 367.5 L609.7 363.7 L595.4 349.4 L602.2 342.6 L616.5 356.9 L620.3 353.1Z" fill="#ff0000" stroke="#1a0000" stroke-width="0.9" stroke-linejoin="miter"/>
<path d="M635.5 374.2 L614.4 367.5 L618.2 363.7 L603.9 349.4 L610.7 342.6 L625.0 356.9 L628.8 353.1Z" fill="#ff0000" stroke="#1a0000" stroke-width="0.9" stroke-linejoin="miter"/>
<path d="M644.0 363.5 L622.9 356.8 L626.7 353.0 L612.5 338.7 L619.3 331.9 L633.5 346.2 L637.4 342.4Z" fill="#ff0000" stroke="#1a0000" stroke-width="0.9" stroke-linejoin="miter"/>
<path d="M652.5 365.4 L631.5 358.7 L635.3 354.9 L621.0 340.6 L627.8 333.8 L642.1 348.1 L645.9 344.3Z" fill="#ff0000" stroke="#1a0000" stroke-width="0.9" stroke-linejoin="miter"/>
<path d="M661.1 354.9 L640.0 348.2 L643.8 344.4 L629.5 330.1 L636.3 323.3 L650.6 337.6 L654.4 333.8Z" fill="#ff0000" stroke="#1a0000" stroke-width="0.9" stroke-linejoin="miter"/>
<path d="M669.6 354.2 L648.5 347.5 L652.4 343.7 L638.1 329.4 L644.9 322.6 L659.2 336.9 L663.0 333.1Z" fill="#ff0000" stroke="#1a0000" stroke-width="0.9" stroke-linejoin="miter"/>
<path d="M678.2 345.2 L657.1 338.5 L660.9 334.7 L646.6 320.4 L653.4 313.6 L667.7 327.9 L671.5 324.1Z" fill="#ff0000" stroke="#1a0000" stroke-width="0.9" stroke-linejoin="miter"/>
<path d="M691.0 310.9 L669.1 313.2 L671.1 308.2 L652.3 300.7 L655.8 291.8 L674.6 299.2 L676.6 294.2Z" fill="#ff0000" stroke="#1a0000" stroke-width="0.9" stroke-linejoin="miter"/>
<path d="M700.0 290.1 L678.2 293.7 L679.9 288.6 L660.7 282.3 L663.6 273.2 L682.9 279.4 L684.5 274.3Z" fill="#ffff00" stroke="#1a0000" stroke-width="0.9" stroke-linejoin="miter"/>
<path d="M709.5 256.7 L689.9 266.9 L689.9 261.5 L669.7 261.5 L669.7 251.9 L689.9 251.9 L689.9 246.5Z" fill="#ffff00" stroke="#1a0000" stroke-width="0.9" stroke-linejoin="miter"/>
<path d="M718.0 266.6 L698.4 276.8 L698.4 271.4 L678.2 271.4 L678.2 261.8 L698.4 261.8 L698.4 256.4Z" fill="#ffff00" stroke="#1a0000" stroke-width="0.9" stroke-linejoin="miter"/>
<path d="M726.6 294.6 L707.0 304.8 L707.0 299.4 L686.8 299.4 L686.8 289.8 L707.0 289.8 L707.0 284.4Z" fill="#ffff00" stroke="#1a0000" stroke-width="0.9" stroke-linejoin="miter"/>
<path d="M735.1 322.4 L715.5 332.6 L715.5 327.2 L695.3 327.2 L695.3 317.6 L715.5 317.6 L715.5 312.2Z" fill="#ff0000" stroke="#1a0000" stroke-width="0.9" stroke-linejoin="miter"/>
<path d="M743.7 341.4 L724.1 351.6 L724.1 346.2 L703.9 346.2 L703.9 336.6 L724.1 336.6 L724.1 331.2Z" fill="#ff0000" stroke="#1a0000" stroke-width="0.9" stroke-linejoin="miter"/>
<path d="M752.2 360.5 L732.6 370.7 L732.6 365.3 L712.4 365.3 L712.4 355.7 L732.6 355.7 L732.6 350.3Z" fill="#ff0000" stroke="#1a0000" stroke-width="0.9" stroke-linejoin="miter"/>
<path d="M759.8 357.9 L744.3 373.7 L742.6 368.6 L723.4 374.8 L720.4 365.7 L739.6 359.4 L738.0 354.3Z" fill="#ff0000" stroke="#1a0000" stroke-width="0.9" stroke-linejoin="miter"/>
<path d="M769.3 370.7 L749.7 380.9 L749.7 375.5 L729.5 375.5 L729.5 365.9 L749.7 365.9 L749.7 360.5Z" fill="#ff0000" stroke="#1a0000" stroke-width="0.9" stroke-linejoin="miter"/>
<path d="M776.4 378.3 L754.4 380.5 L756.4 375.5 L737.7 367.9 L741.3 359.0 L760.0 366.5 L762.0 361.5Z" fill="#ff0000" stroke="#1a0000" stroke-width="0.9" stroke-linejoin="miter"/>
<path d="M784.0 380.7 L762.0 380.5 L764.5 375.7 L746.7 366.3 L751.2 357.8 L769.0 367.3 L771.5 362.5Z" fill="#ff0000" stroke="#1a0000" stroke-width="0.9" stroke-linejoin="miter"/>
<path d="M789.4 382.5 L768.2 376.2 L771.9 372.4 L757.4 358.3 L764.1 351.4 L778.6 365.4 L782.4 361.6Z" fill="#ff0000" stroke="#1a0000" stroke-width="0.9" stroke-linejoin="miter"/>
<path d="M797.9 373.7 L776.7 367.4 L780.5 363.6 L766.0 349.5 L772.6 342.6 L787.2 356.6 L790.9 352.8Z" fill="#ff0000" stroke="#1a0000" stroke-width="0.9" stroke-linejoin="miter"/>
<path d="M797.9 389.9 L781.9 374.7 L787.0 373.0 L780.4 353.9 L789.5 350.7 L796.0 369.8 L801.1 368.1Z" fill="#ff0000" stroke="#1a0000" stroke-width="0.9" stroke-linejoin="miter"/>
<path d="M794.0 378.6 L791.3 356.7 L796.4 358.6 L803.5 339.7 L812.5 343.1 L805.4 362.0 L810.4 363.9Z" fill="#ff0000" stroke="#1a0000" stroke-width="0.9" stroke-linejoin="miter"/>
<path d="M794.8 339.0 L816.2 344.4 L812.6 348.4 L827.7 361.8 L821.4 369.0 L806.3 355.6 L802.7 359.6Z" fill="#ff0000" stroke="#1a0000" stroke-width="0.9" stroke-linejoin="miter"/>
<path d="M818.0 321.9 L828.2 341.5 L822.8 341.5 L822.8 361.7 L813.2 361.7 L813.2 341.5 L807.8 341.5Z" fill="#ff0000" stroke="#1a0000" stroke-width="0.9" stroke-linejoin="miter"/>
<path d="M826.5 313.6 L836.7 333.2 L831.3 333.2 L831.3 353.4 L821.7 353.4 L821.7 333.2 L816.3 333.2Z" fill="#ff0000" stroke="#1a0000" stroke-width="0.9" stroke-linejoin="miter"/>
<path d="M835.0 313.6 L845.2 333.2 L839.8 333.2 L839.8 353.4 L830.2 353.4 L830.2 333.2 L824.8 333.2Z" fill="#ff0000" stroke="#1a0000" stroke-width="0.9" stroke-linejoin="miter"/>
<path d="M843.6 313.6 L853.8 333.2 L848.4 333.2 L848.4 353.4 L838.8 353.4 L838.8 333.2 L833.4 333.2Z" fill="#ff0000" stroke="#1a0000" stroke-width="0.9" stroke-linejoin="miter"/>
<path d="M837.3 329.5 L858.8 334.7 L855.3 338.8 L870.5 352.0 L864.2 359.3 L849.0 346.0 L845.4 350.1Z" fill="#ff0000" stroke="#1a0000" stroke-width="0.9" stroke-linejoin="miter"/>
<path d="M842.9 344.2 L865.0 343.3 L862.7 348.1 L881.0 356.7 L876.9 365.4 L858.6 356.9 L856.3 361.7Z" fill="#ff0000" stroke="#1a0000" stroke-width="0.9" stroke-linejoin="miter"/>
<path d="M861.2 383.6 L859.9 361.6 L864.8 363.7 L873.0 345.3 L881.8 349.2 L873.6 367.7 L878.5 369.8Z" fill="#ff0000" stroke="#1a0000" stroke-width="0.9" stroke-linejoin="miter"/>
<path d="M876.3 391.2 L866.1 371.6 L871.5 371.6 L871.5 351.4 L881.1 351.4 L881.1 371.6 L886.5 371.6Z" fill="#ff0000" stroke="#1a0000" stroke-width="0.9" stroke-linejoin="miter"/>
<path d="M886.0 391.2 L875.8 371.6 L881.2 371.6 L881.2 351.4 L890.8 351.4 L890.8 371.6 L896.2 371.6Z" fill="#ff0000" stroke="#1a0000" stroke-width="0.9" stroke-linejoin="miter"/>
<path d="M897.5 387.4 L884.7 369.4 L890.1 368.7 L887.2 348.7 L896.7 347.3 L899.6 367.3 L904.9 366.6Z" fill="#ff0000" stroke="#1a0000" stroke-width="0.9" stroke-linejoin="miter"/>
<path d="M907.3 380.1 L891.5 364.7 L896.6 363.0 L890.4 343.8 L899.5 340.8 L905.8 360.0 L910.9 358.3Z" fill="#ff0000" stroke="#1a0000" stroke-width="0.9" stroke-linejoin="miter"/>
<path d="M921.7 377.0 L903.0 365.1 L907.7 362.4 L897.6 344.9 L905.9 340.1 L916.0 357.6 L920.7 354.9Z" fill="#ff0000" stroke="#1a0000" stroke-width="0.9" stroke-linejoin="miter"/>
<path d="M933.0 375.0 L912.6 366.6 L916.7 363.1 L903.8 347.6 L911.1 341.4 L924.1 356.9 L928.2 353.4Z" fill="#ff0000" stroke="#1a0000" stroke-width="0.9" stroke-linejoin="miter"/>
<path d="M944.0 372.6 L922.4 367.8 L925.9 363.7 L910.4 350.7 L916.6 343.3 L932.0 356.3 L935.5 352.2Z" fill="#ff0000" stroke="#1a0000" stroke-width="0.9" stroke-linejoin="miter"/>
<path d="M955.7 366.3 L933.7 368.5 L935.7 363.5 L917.0 355.9 L920.6 347.0 L939.3 354.5 L941.3 349.5Z" fill="#ff0000" stroke="#1a0000" stroke-width="0.9" stroke-linejoin="miter"/>
<path d="M965.6 351.5 L946.0 361.7 L946.0 356.3 L925.8 356.3 L925.8 346.7 L946.0 346.7 L946.0 341.3Z" fill="#ff0000" stroke="#1a0000" stroke-width="0.9" stroke-linejoin="miter"/>
<path d="M971.3 327.3 L959.9 346.2 L957.1 341.6 L939.8 352.1 L934.8 343.9 L952.1 333.4 L949.3 328.8Z" fill="#ff0000" stroke="#1a0000" stroke-width="0.9" stroke-linejoin="miter"/>
<path d="M978.6 325.9 L969.4 346.0 L966.1 341.8 L950.1 354.2 L944.2 346.7 L960.2 334.2 L956.8 330.0Z" fill="#ff0000" stroke="#1a0000" stroke-width="0.9" stroke-linejoin="miter"/>
<path d="M986.7 322.9 L978.2 343.3 L974.7 339.2 L959.3 352.2 L953.1 344.8 L968.6 331.8 L965.1 327.7Z" fill="#ff0000" stroke="#1a0000" stroke-width="0.9" stroke-linejoin="miter"/>
<path d="M994.7 319.1 L987.0 339.8 L983.4 335.8 L968.4 349.3 L962.0 342.1 L977.0 328.6 L973.4 324.6Z" fill="#ff0000" stroke="#1a0000" stroke-width="0.9" stroke-linejoin="miter"/>
<path d="M1002.6 328.7 L995.9 349.8 L992.1 346.0 L977.8 360.3 L971.0 353.5 L985.3 339.2 L981.5 335.4Z" fill="#ff0000" stroke="#1a0000" stroke-width="0.9" stroke-linejoin="miter"/>
<path d="M1009.9 338.5 L1005.1 360.1 L1000.9 356.6 L987.9 372.1 L980.6 365.9 L993.6 350.4 L989.4 346.9Z" fill="#ff0000" stroke="#1a0000" stroke-width="0.9" stroke-linejoin="miter"/>
<path d="M1024.2 360.3 L1004.6 370.5 L1004.6 365.1 L984.4 365.1 L984.4 355.5 L1004.6 355.5 L1004.6 350.1Z" fill="#ff0000" stroke="#1a0000" stroke-width="0.9" stroke-linejoin="miter"/>
<path d="M1032.7 360.3 L1013.1 370.5 L1013.1 365.1 L992.9 365.1 L992.9 355.5 L1013.1 355.5 L1013.1 350.1Z" fill="#ff0000" stroke="#1a0000" stroke-width="0.9" stroke-linejoin="miter"/>
</g>
</svg></body></html>
